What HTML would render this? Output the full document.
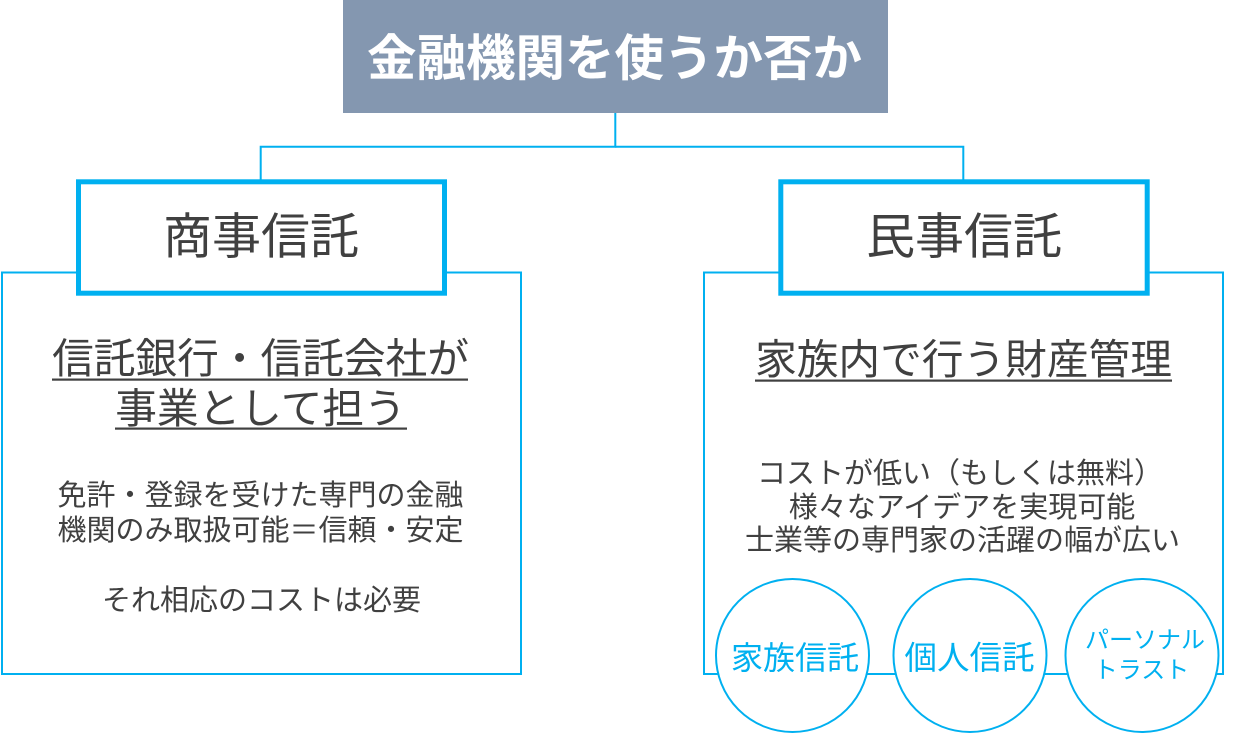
<!DOCTYPE html>
<html><head><meta charset="utf-8">
<style>
html,body{margin:0;padding:0;background:#fff;}
body{width:1247px;height:734px;overflow:hidden;}
svg{display:block;}
text{font-family:"Liberation Sans","Noto Sans CJK JP",sans-serif;}
</style></head>
<body>
<svg width="1247" height="734" viewBox="0 0 1247 734" xmlns="http://www.w3.org/2000/svg">
  <!-- title box -->
  <rect x="343" y="0" width="545" height="113" fill="#8497b0"/>
  <text x="614.5" y="75.5" font-size="49.5" font-weight="bold" fill="#ffffff" text-anchor="middle">金融機関を使うか否か</text>

  <!-- connectors -->
  <g stroke="#00b0f0" stroke-width="2" fill="none">
    <path d="M615.3 113 V146.7 H260.7 V182"/>
    <path d="M615.3 146.7 H963.3 V182"/>
  </g>

  <!-- content boxes -->
  <rect x="2" y="272.5" width="519" height="401.5" fill="#fff" stroke="#00b0f0" stroke-width="2"/>
  <rect x="704" y="272.5" width="519" height="401.5" fill="#fff" stroke="#00b0f0" stroke-width="2"/>

  <!-- header boxes -->
  <rect x="78.5" y="181.8" width="366" height="111.4" fill="#fff" stroke="#00b0f0" stroke-width="5"/>
  <rect x="780.8" y="181.8" width="366.4" height="111.4" fill="#fff" stroke="#00b0f0" stroke-width="5"/>
  <text x="261" y="253.5" font-size="49" fill="#404040" text-anchor="middle">商事信託</text>
  <text x="964" y="253.5" font-size="49" fill="#404040" text-anchor="middle">民事信託</text>

  <!-- left subtitle -->
  <text x="260.5" y="373" font-size="41.7" fill="#404040" text-anchor="middle">信託銀行・信託会社が</text>
  <text x="260.5" y="423" font-size="41.7" fill="#404040" text-anchor="middle">事業として担う</text>
  <rect x="52" y="378.5" width="416" height="2.2" fill="#404040"/>
  <rect x="115" y="427.5" width="292" height="2.2" fill="#404040"/>

  <!-- left body -->
  <text x="260.5" y="505" font-size="29" fill="#404040" text-anchor="middle">免許・登録を受けた専門の金融</text>
  <text x="260.5" y="540" font-size="29" fill="#404040" text-anchor="middle">機関のみ取扱可能＝信頼・安定</text>
  <text x="261.5" y="610" font-size="29" fill="#404040" text-anchor="middle">それ相応のコストは必要</text>

  <!-- right subtitle -->
  <text x="963.5" y="374" font-size="41.7" fill="#404040" text-anchor="middle">家族内で行う財産管理</text>
  <rect x="755" y="379.5" width="417" height="2.2" fill="#404040"/>

  <!-- right body -->
  <text x="960" y="483" font-size="29" fill="#404040" text-anchor="middle">コストが低い（もしくは無料）</text>
  <text x="962" y="517" font-size="29" fill="#404040" text-anchor="middle">様々なアイデアを実現可能</text>
  <text x="962.5" y="550" font-size="29" fill="#404040" text-anchor="middle">士業等の専門家の活躍の幅が広い</text>

  <!-- circles -->
  <g fill="#fff" stroke="#00b0f0" stroke-width="2">
    <circle cx="792.5" cy="655.5" r="76.5"/>
    <circle cx="970" cy="655.5" r="76.5"/>
    <circle cx="1142" cy="655.5" r="76.5"/>
  </g>
  <text x="795" y="669" font-size="32" fill="#00b0f0" text-anchor="middle">家族信託</text>
  <text x="969.5" y="669" font-size="32.5" fill="#00b0f0" text-anchor="middle">個人信託</text>
  <text x="1145" y="648" font-size="24" fill="#00b0f0" text-anchor="middle">パーソナル</text>
  <text x="1141.5" y="678" font-size="24" fill="#00b0f0" text-anchor="middle">トラスト</text>
</svg>
</body></html>
